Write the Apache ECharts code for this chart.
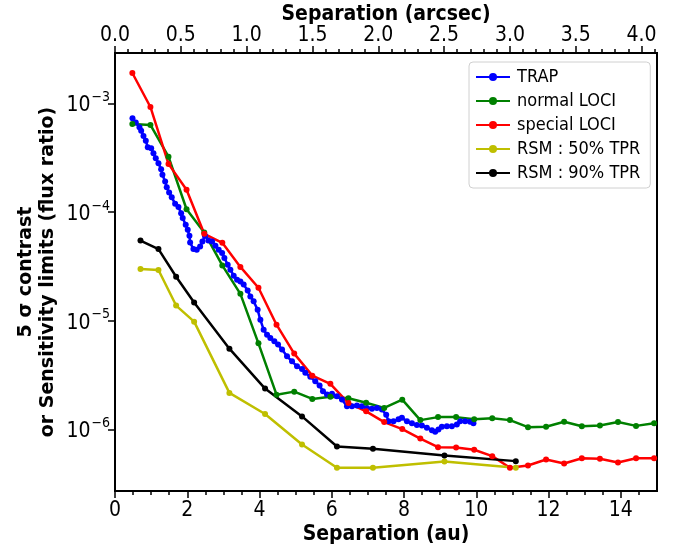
<!DOCTYPE html>
<html>
<head>
<meta charset="utf-8">
<script src="https://cdn.jsdelivr.net/npm/echarts@6/dist/echarts.min.js"></script>
<style>
html,body{margin:0;padding:0;background:#fff;}
#chart{width:681px;height:545px;}
</style>
</head>
<body>
<div id="chart"></div>
<script>
// ---- Data (Separation in au, 5-sigma contrast / flux ratio) ----
const trapSep = [0.484,0.575,0.677,0.724,0.788,0.852,0.907,1.001,1.064,1.128,1.203,1.277,1.313,1.388,1.432,1.498,1.570,1.664,1.756,1.830,1.874,1.957,2.013,2.060,2.079,2.170,2.262,2.356,2.419,2.488,2.585,2.687,2.779,2.870,2.964,3.027,3.119,3.193,3.285,3.378,3.470,3.561,3.672,3.746,3.837,3.948,4.023,4.114,4.208,4.299,4.410,4.512,4.623,4.761,4.899,5.037,5.176,5.267,5.405,5.543,5.662,5.756,5.867,6.005,6.143,6.281,6.420,6.558,6.696,6.834,6.973,7.111,7.249,7.387,7.506,7.570,7.708,7.846,7.940,8.079,8.217,8.355,8.493,8.631,8.770,8.861,8.952,9.046,9.184,9.323,9.461,9.552,9.690,9.829,9.920];
const trapVal = [7.28e-4,6.64e-4,6.02e-4,5.60e-4,5.01e-4,4.53e-4,3.94e-4,3.86e-4,3.47e-4,3.13e-4,2.81e-4,2.48e-4,2.20e-4,1.91e-4,1.69e-4,1.51e-4,1.37e-4,1.19e-4,1.11e-4,9.77e-5,8.79e-5,7.63e-5,6.87e-5,6.04e-5,5.25e-5,4.56e-5,4.50e-5,4.82e-5,5.36e-5,6.04e-5,5.47e-5,5.36e-5,4.90e-5,4.50e-5,4.20e-5,3.78e-5,3.28e-5,2.95e-5,2.60e-5,2.38e-5,2.30e-5,2.15e-5,1.90e-5,1.67e-5,1.51e-5,1.26e-5,1.02e-5,8.28e-6,7.45e-6,6.95e-6,6.47e-6,6.04e-6,5.43e-6,4.71e-6,4.24e-6,3.81e-6,3.61e-6,3.32e-6,3.05e-6,2.78e-6,2.54e-6,2.25e-6,2.10e-6,2.13e-6,2.02e-6,1.89e-6,1.64e-6,1.64e-6,1.66e-6,1.64e-6,1.58e-6,1.55e-6,1.58e-6,1.53e-6,1.37e-6,1.19e-6,1.19e-6,1.24e-6,1.28e-6,1.19e-6,1.14e-6,1.10e-6,1.09e-6,1.04e-6,9.87e-7,9.53e-7,1.00e-6,1.06e-6,1.07e-6,1.07e-6,1.11e-6,1.19e-6,1.19e-6,1.18e-6,1.14e-6];

const lociSep = [0.48,0.98,1.48,1.98,2.47,2.97,3.47,3.97,4.47,4.96,5.46,5.96,6.46,6.95,7.45,7.95,8.45,8.94,9.44,9.94,10.44,10.93,11.43,11.93,12.43,12.92,13.42,13.92,14.42,14.92];
const normalLociVal = [6.46e-4,6.32e-4,3.23e-4,1.06e-4,6.49e-5,3.23e-5,1.77e-5,6.2e-6,2.09e-6,2.23e-6,1.91e-6,2.0e-6,1.94e-6,1.76e-6,1.58e-6,1.88e-6,1.22e-6,1.30e-6,1.30e-6,1.24e-6,1.27e-6,1.22e-6,1.05e-6,1.06e-6,1.18e-6,1.07e-6,1.09e-6,1.17e-6,1.08e-6,1.14e-6];
const specialLociVal = [1.90e-3,9.25e-4,2.77e-4,1.60e-4,6.31e-5,5.21e-5,3.13e-5,2.01e-5,9.2e-6,4.99e-6,3.13e-6,2.63e-6,1.75e-6,1.47e-6,1.17e-6,1.01e-6,8.26e-7,6.88e-7,6.83e-7,6.51e-7,5.69e-7,4.45e-7,4.67e-7,5.30e-7,4.87e-7,5.45e-7,5.38e-7,4.98e-7,5.45e-7,5.45e-7];

const rsmSep = [0.705,1.203,1.692,2.190,3.166,4.153,5.176,6.143,7.139,9.118,11.092];
const rsm50Val = [2.99e-5,2.93e-5,1.38e-5,9.82e-6,2.17e-6,1.39e-6,7.28e-7,4.45e-7,4.45e-7,5.08e-7,4.45e-7];
const rsm90Val = [5.47e-5,4.56e-5,2.54e-5,1.47e-5,5.54e-6,2.38e-6,1.32e-6,6.97e-7,6.65e-7,5.77e-7,5.12e-7];

// ---- Axis ticks ----
const auMajor = [0,2,4,6,8,10,12,14];
const auMinor = [0.5,1,1.5,2.5,3,3.5,4.5,5,5.5,6.5,7,7.5,8.5,9,9.5,10.5,11,11.5,12.5,13,13.5,14.5];
const arcMajor = [0,0.5,1,1.5,2,2.5,3,3.5,4];
const arcMinor = [0.1,0.2,0.3,0.4,0.6,0.7,0.8,0.9,1.1,1.2,1.3,1.4,1.6,1.7,1.8,1.9,2.1,2.2,2.3,2.4,2.6,2.7,2.8,2.9,3.1,3.2,3.3,3.4,3.6,3.7,3.8,3.9,4.1];
const yMajor = [1e-6,1e-5,1e-4,1e-3];

const AU_PER_ARCSEC = 3.643;
const X_MAX = 15;
const Y_MIN = 2.72e-7, Y_MAX = 2.9e-3;

const FONT_C = "'DejaVu Sans Condensed', 'DejaVu Sans', sans-serif";
const FONT = "'DejaVu Sans', sans-serif";

function pairs(xs, ys){ return xs.map((x,i)=>[x, ys[i]]); }

const chart = echarts.init(document.getElementById('chart'), null, {renderer:'canvas'});

const tickStyle = {color:'#000', width:1.5};
function baseX(extra){
  return Object.assign({
    type:'value', gridIndex:0, min:0, max:X_MAX,
    axisLine:{show:false}, splitLine:{show:false}, nameMoveOverlap:false
  }, extra);
}

const option = {
  animation:false,
  backgroundColor:'#fff',
  grid:{left:115, right:24, top:53, bottom:54, show:true, borderColor:'#000', borderWidth:2, backgroundColor:'transparent',
    containLabel:false, outerBoundsMode:'none'},
  xAxis:[
    baseX({position:'bottom',
      axisTick:{show:true, inside:false, length:7, lineStyle:tickStyle, customValues:auMajor},
      axisLabel:{customValues:auMajor, color:'#000', fontSize:21, fontFamily:FONT_C, margin:9},
      name:'Separation (au)', nameLocation:'middle', nameGap:33,
      nameTextStyle:{color:'#000', fontSize:21, fontWeight:'bold', fontFamily:FONT_C}
    }),
    baseX({position:'bottom',
      axisTick:{show:true, inside:false, length:4, lineStyle:tickStyle, customValues:auMinor},
      axisLabel:{show:false}
    }),
    baseX({position:'top', min:0, max:X_MAX/AU_PER_ARCSEC,
      axisTick:{show:true, inside:false, length:7, lineStyle:tickStyle, customValues:arcMajor},
      axisLabel:{customValues:arcMajor, color:'#000', fontSize:21, fontFamily:FONT_C, margin:7,
        formatter:v=>Number(v).toFixed(1)},
      name:'Separation (arcsec)', nameLocation:'middle', nameGap:28,
      nameTextStyle:{color:'#000', fontSize:21, fontWeight:'bold', fontFamily:FONT_C}
    }),
    baseX({position:'top', min:0, max:X_MAX/AU_PER_ARCSEC,
      axisTick:{show:true, inside:false, length:4, lineStyle:tickStyle, customValues:arcMinor},
      axisLabel:{show:false}
    })
  ],
  yAxis:[{
    type:'log', logBase:10, min:Y_MIN, max:Y_MAX, position:'left', nameMoveOverlap:false,
    axisLine:{show:false}, splitLine:{show:false}, minorTick:{show:false},
    axisTick:{show:true, inside:false, length:7, lineStyle:tickStyle, customValues:yMajor},
    axisLabel:{customValues:yMajor, color:'#000', margin:5,
      formatter:v=>'{b|10}{s|\u2212'+Math.round(-Math.log10(v))+'}',
      rich:{
        b:{fontSize:21, fontFamily:FONT_C, color:'#000', verticalAlign:'bottom', lineHeight:26},
        s:{fontSize:14, fontFamily:FONT_C, color:'#000', verticalAlign:'top', lineHeight:14, padding:[0,0,0,1]}
      }
    },
    name:'5 \u03c3 contrast\nor Sensitivity limits (flux ratio)', nameLocation:'middle', nameGap:56, nameRotate:90,
    nameTextStyle:{color:'#000', fontSize:19, fontWeight:'bold', fontFamily:FONT, lineHeight:22, align:'center'}
  }],
  legend:{
    orient:'vertical', left:469, top:62,
    itemWidth:34, itemHeight:10, itemGap:6,
    padding:[6,10,6,6],
    borderColor:'#d0d0d0', borderWidth:1, borderRadius:4, backgroundColor:'#fff',
    textStyle:{color:'#000', fontSize:18, fontFamily:FONT_C, padding:[0,0,0,2]},
    data:['TRAP','normal LOCI','special LOCI','RSM : 50% TPR','RSM : 90% TPR']
  },
  series:[
    {name:'TRAP', color:'#0000ff', data:pairs(trapSep, trapVal)},
    {name:'normal LOCI', color:'#008000', data:pairs(lociSep, normalLociVal)},
    {name:'special LOCI', color:'#ff0000', data:pairs(lociSep, specialLociVal)},
    {name:'RSM : 50% TPR', color:'#bfbf00', data:pairs(rsmSep, rsm50Val)},
    {name:'RSM : 90% TPR', color:'#000000', data:pairs(rsmSep, rsm90Val)}
  ].map(s=>Object.assign({
    type:'line', xAxisIndex:0, yAxisIndex:0,
    symbol:'circle', symbolSize:6, showSymbol:true, showAllSymbol:true,
    lineStyle:{width:2.5}, itemStyle:{borderWidth:0},
    emphasis:{disabled:true}
  }, s))
};
chart.setOption(option);
</script>
</body>
</html>
